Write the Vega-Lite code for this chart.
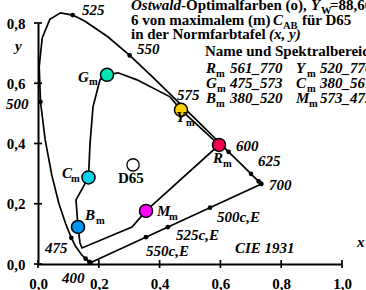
{
  "$schema": "https://vega.github.io/schema/vega-lite/v6.json",
  "width": 304,
  "height": 241,
  "autosize": "none",
  "padding": {"left": 38, "top": 23, "right": 24, "bottom": 26},
  "background": "white",
  "config": {
    "view": {"stroke": null},
    "font": "Liberation Serif",
    "axis": {"grid": false, "ticks": false, "domainColor": "black", "domainWidth": 2, "labelFont": "Liberation Serif", "labelFontWeight": "bold", "labelFontSize": 15, "labelColor": "black", "labelOverlap": false, "labelFlush": false, "title": null}
  },
  "datasets": {
    "locus": [
      {"i": 0, "x": 0.1741, "y": 0.005}, {"i": 1, "x": 0.1733, "y": 0.0048}, {"i": 2, "x": 0.1714, "y": 0.0051},
      {"i": 3, "x": 0.1689, "y": 0.0069}, {"i": 4, "x": 0.1644, "y": 0.0109}, {"i": 5, "x": 0.1566, "y": 0.0177},
      {"i": 6, "x": 0.144, "y": 0.0297}, {"i": 7, "x": 0.1241, "y": 0.0578}, {"i": 8, "x": 0.1096, "y": 0.0868},
      {"i": 9, "x": 0.0913, "y": 0.1327}, {"i": 10, "x": 0.0687, "y": 0.2007}, {"i": 11, "x": 0.0454, "y": 0.295},
      {"i": 12, "x": 0.0235, "y": 0.4127}, {"i": 13, "x": 0.0082, "y": 0.5384}, {"i": 14, "x": 0.0039, "y": 0.6548},
      {"i": 15, "x": 0.0139, "y": 0.7502}, {"i": 16, "x": 0.0389, "y": 0.812}, {"i": 17, "x": 0.0743, "y": 0.8338},
      {"i": 18, "x": 0.1142, "y": 0.8262}, {"i": 19, "x": 0.1547, "y": 0.8059}, {"i": 20, "x": 0.2296, "y": 0.7543},
      {"i": 21, "x": 0.3016, "y": 0.6923}, {"i": 22, "x": 0.3731, "y": 0.6245}, {"i": 23, "x": 0.4441, "y": 0.5547},
      {"i": 24, "x": 0.4788, "y": 0.5202}, {"i": 25, "x": 0.5125, "y": 0.4866}, {"i": 26, "x": 0.5752, "y": 0.4242},
      {"i": 27, "x": 0.627, "y": 0.3725}, {"i": 28, "x": 0.6658, "y": 0.334}, {"i": 29, "x": 0.6915, "y": 0.3083},
      {"i": 30, "x": 0.7006, "y": 0.2993}, {"i": 31, "x": 0.7079, "y": 0.292}, {"i": 32, "x": 0.719, "y": 0.2809},
      {"i": 33, "x": 0.726, "y": 0.274}, {"i": 34, "x": 0.7334, "y": 0.2666}, {"i": 35, "x": 0.7347, "y": 0.2653},
      {"i": 36, "x": 0.1741, "y": 0.005}
    ],
    "inner": [
      {"i": 0, "x": 0.227, "y": 0.6279}, {"i": 1, "x": 0.2632, "y": 0.6346}, {"i": 2, "x": 0.3257, "y": 0.6113},
      {"i": 3, "x": 0.4342, "y": 0.5548}, {"i": 4, "x": 0.4704, "y": 0.5116}, {"i": 5, "x": 0.5954, "y": 0.3953},
      {"i": 6, "x": 0.3553, "y": 0.1761}, {"i": 7, "x": 0.3092, "y": 0.1229}, {"i": 8, "x": 0.1447, "y": 0.0532},
      {"i": 9, "x": 0.1382, "y": 0.0698}, {"i": 10, "x": 0.1316, "y": 0.1229}, {"i": 11, "x": 0.125, "y": 0.2126},
      {"i": 12, "x": 0.1661, "y": 0.2874}, {"i": 13, "x": 0.1711, "y": 0.3987}, {"i": 14, "x": 0.1809, "y": 0.5216},
      {"i": 15, "x": 0.2039, "y": 0.6113}, {"i": 16, "x": 0.227, "y": 0.6279}
    ],
    "dots": [
      {"x": 0.1733, "y": 0.0048}, {"x": 0.1689, "y": 0.0069}, {"x": 0.1566, "y": 0.0177}, {"x": 0.1096, "y": 0.0868},
      {"x": 0.0082, "y": 0.5384}, {"x": 0.1142, "y": 0.8262}, {"x": 0.3016, "y": 0.6923}, {"x": 0.4788, "y": 0.5202},
      {"x": 0.627, "y": 0.3725}, {"x": 0.7006, "y": 0.2993}, {"x": 0.726, "y": 0.274}, {"x": 0.7334, "y": 0.2666},
      {"x": 0.7347, "y": 0.2653}, {"x": 0.355, "y": 0.089}, {"x": 0.427, "y": 0.1224}, {"x": 0.566, "y": 0.187}
    ],
    "circles": [
      {"name": "Gm", "x": 0.227, "y": 0.6279}, {"name": "Ym", "x": 0.4704, "y": 0.5116},
      {"name": "Rm", "x": 0.5954, "y": 0.3953}, {"name": "Cm", "x": 0.1661, "y": 0.2874},
      {"name": "Bm", "x": 0.1316, "y": 0.1229}, {"name": "Mm", "x": 0.3553, "y": 0.1761}
    ],
    "d65": [{"x": 0.3127, "y": 0.329}],
    "ticks": [
      {"x": 0, "y": 0, "dir": "v"}, {"x": 0.2, "y": 0, "dir": "v"}, {"x": 0.4, "y": 0, "dir": "v"},
      {"x": 0.6, "y": 0, "dir": "v"}, {"x": 0.8, "y": 0, "dir": "v"}, {"x": 1, "y": 0, "dir": "v"},
      {"x": 0, "y": 0, "dir": "h"}, {"x": 0, "y": 0.2, "dir": "h"}, {"x": 0, "y": 0.4, "dir": "h"},
      {"x": 0, "y": 0.6, "dir": "h"}, {"x": 0, "y": 0.8, "dir": "h"}
    ],
    "it": [
      {"t": "525", "x": 0.1447, "y": 0.8272}, {"t": "550", "x": 0.3257, "y": 0.6977},
      {"t": "500", "x": -0.1053, "y": 0.515}, {"t": "y", "x": -0.0757, "y": 0.7076},
      {"t": "575", "x": 0.4572, "y": 0.5449}, {"t": "600", "x": 0.6513, "y": 0.3754},
      {"t": "625", "x": 0.7237, "y": 0.3256}, {"t": "700", "x": 0.7599, "y": 0.2458},
      {"t": "500c,E", "x": 0.5888, "y": 0.1395}, {"t": "525c,E", "x": 0.4539, "y": 0.0797},
      {"t": "550c,E", "x": 0.3553, "y": 0.0266}, {"t": "CIE 1931", "x": 0.648, "y": 0.0365},
      {"t": "x", "x": 1.0493, "y": 0.0565}, {"t": "475", "x": 0.023, "y": 0.0365},
      {"t": "400", "x": 0.0789, "y": -0.0631},
      {"t": "G", "x": 0.1316, "y": 0.6047}, {"t": "Y", "x": 0.4539, "y": 0.4718},
      {"t": "R", "x": 0.5757, "y": 0.3355}, {"t": "C", "x": 0.0789, "y": 0.2857},
      {"t": "B", "x": 0.1546, "y": 0.1462}, {"t": "M", "x": 0.3914, "y": 0.1595},
      {"t": "Ostwald", "x": 0.3059, "y": 0.8439}, {"t": "Y", "x": 0.898, "y": 0.8439},
      {"t": "C", "x": 0.773, "y": 0.794}, {"t": "(x, y)", "x": 0.7599, "y": 0.7475},
      {"t": "R", "x": 0.5526, "y": 0.6346}, {"t": "561_770", "x": 0.6316, "y": 0.6346},
      {"t": "Y", "x": 0.8487, "y": 0.6346}, {"t": "520_770", "x": 0.9276, "y": 0.6346},
      {"t": "G", "x": 0.5526, "y": 0.5847}, {"t": "475_573", "x": 0.6316, "y": 0.5847},
      {"t": "C", "x": 0.8487, "y": 0.5847}, {"t": "380_561", "x": 0.9276, "y": 0.5847},
      {"t": "B", "x": 0.5526, "y": 0.5349}, {"t": "380_520", "x": 0.6316, "y": 0.5349},
      {"t": "M", "x": 0.8487, "y": 0.5349}, {"t": "573_475", "x": 0.9276, "y": 0.5349}
    ],
    "bt": [
      {"t": "-Optimalfarben (o),", "x": 0.4704, "y": 0.8439}, {"t": "=88,66", "x": 0.9605, "y": 0.8439},
      {"t": "6 von maximalem (m)", "x": 0.3059, "y": 0.794}, {"t": "für D65", "x": 0.8684, "y": 0.794},
      {"t": "in der Normfarbtafel", "x": 0.3059, "y": 0.7475},
      {"t": "Name und Spektralbereich", "x": 0.5493, "y": 0.691},
      {"t": "D65", "x": 0.2632, "y": 0.2691}
    ],
    "sb": [
      {"t": "W", "x": 0.9309, "y": 0.8306}, {"t": "AB", "x": 0.8059, "y": 0.7807},
      {"t": "m", "x": 0.1678, "y": 0.5947}, {"t": "m", "x": 0.4868, "y": 0.4585},
      {"t": "m", "x": 0.6086, "y": 0.3223}, {"t": "m", "x": 0.1086, "y": 0.2724},
      {"t": "m", "x": 0.1908, "y": 0.1329}, {"t": "m", "x": 0.4309, "y": 0.1462},
      {"t": "m", "x": 0.5855, "y": 0.6213}, {"t": "m", "x": 0.8849, "y": 0.6213},
      {"t": "m", "x": 0.5888, "y": 0.5714}, {"t": "m", "x": 0.8849, "y": 0.5714},
      {"t": "m", "x": 0.5855, "y": 0.5216}, {"t": "m", "x": 0.8914, "y": 0.5216}
    ]
  },
  "encoding": {
    "x": {"field": "x", "type": "quantitative", "title": null, "scale": {"domain": [0, 1], "nice": false, "zero": false},
      "axis": {"values": [0, 0.2, 0.4, 0.6, 0.8, 1], "labelExpr": "replace(format(datum.value, '.1f'), '.', ',')", "labelPadding": 12, "labelDx": 3}},
    "y": {"field": "y", "type": "quantitative", "title": null, "scale": {"domain": [0, 0.8], "nice": false, "zero": false},
      "axis": {"values": [0, 0.2, 0.4, 0.6, 0.8], "labelExpr": "replace(format(datum.value, '.1f'), '.', ',')", "labelPadding": 13}}
  },
  "layer": [
    {
      "data": {"name": "locus"},
      "mark": {"type": "line", "color": "black", "strokeWidth": 1.7},
      "encoding": {"order": {"field": "i", "type": "quantitative"}}
    },
    {
      "data": {"name": "inner"},
      "mark": {"type": "line", "color": "black", "strokeWidth": 1.7},
      "encoding": {"order": {"field": "i", "type": "quantitative"}}
    },
    {
      "data": {"name": "ticks"},
      "transform": [{"filter": "datum.dir == 'v'"}],
      "mark": {"type": "point", "shape": "M0,-1L0,1", "filled": false, "stroke": "black", "strokeWidth": 1.7, "size": 64, "opacity": 1},
      "encoding": {}
    },
    {
      "data": {"name": "ticks"},
      "transform": [{"filter": "datum.dir == 'h'"}],
      "mark": {"type": "point", "shape": "M-1,0L1,0", "filled": false, "stroke": "black", "strokeWidth": 1.7, "size": 64, "opacity": 1},
      "encoding": {}
    },
    {
      "data": {"name": "dots"},
      "mark": {"type": "point", "filled": true, "color": "black", "size": 22, "opacity": 1},
      "encoding": {}
    },
    {
      "data": {"name": "circles"},
      "mark": {"type": "point", "filled": true, "size": 170, "stroke": "black", "strokeWidth": 1.5, "opacity": 1},
      "encoding": {
        "fill": {"field": "name", "type": "nominal", "legend": null,
          "scale": {"domain": ["Rm", "Ym", "Gm", "Cm", "Bm", "Mm"], "range": ["#f0004c", "#f8d000", "#00e6b4", "#00d2f0", "#0096f0", "#ff00ff"]}}
      }
    },
    {
      "data": {"name": "d65"},
      "mark": {"type": "point", "filled": true, "fill": "white", "size": 150, "stroke": "black", "strokeWidth": 1.3, "opacity": 1},
      "encoding": {}
    },
    {
      "data": {"name": "it"},
      "mark": {"type": "text", "align": "left", "baseline": "alphabetic", "font": "Liberation Serif", "fontWeight": "bold", "fontStyle": "italic", "fontSize": 15, "color": "black"},
      "encoding": {"text": {"field": "t"}}
    },
    {
      "data": {"name": "bt"},
      "mark": {"type": "text", "align": "left", "baseline": "alphabetic", "font": "Liberation Serif", "fontWeight": "bold", "fontSize": 15, "color": "black"},
      "encoding": {"text": {"field": "t"}}
    },
    {
      "data": {"name": "sb"},
      "mark": {"type": "text", "align": "left", "baseline": "alphabetic", "font": "Liberation Serif", "fontWeight": "bold", "fontSize": 10.5, "color": "black"},
      "encoding": {"text": {"field": "t"}}
    }
  ]
}
